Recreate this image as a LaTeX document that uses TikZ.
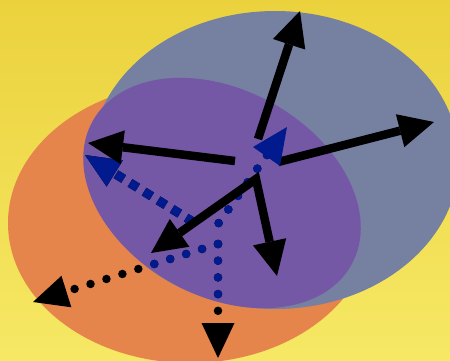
\documentclass[tikz,border=0pt]{standalone}
\usetikzlibrary{arrows.meta}
\definecolor{bgtop}{HTML}{EBD23D}
\definecolor{bgbot}{HTML}{F6E865}
\definecolor{slate}{HTML}{7680A1}
\definecolor{tang}{HTML}{E5844B}
\definecolor{vio}{HTML}{7458A6}
\definecolor{navyblue}{HTML}{011B8E}
\newcommand{\dottedset}[1]{%
  \draw[sqline,color=#1] (sqS) -- (sqT);
  \draw[dotline,color=#1] (dA) -- (dJ);
  \draw[dotarrow,color=#1] (dV) -- (dVT);
  \draw[dotarrow,color=#1] (dV) -- (dLT);
}
\begin{document}
\begin{tikzpicture}[x=1pt,y=-1pt,
  bigtip/.style={-{Triangle[length=35pt,width=34pt,line width=0pt]}},
  solidarrow/.style={line width=8.5pt,line cap=butt,bigtip},
  sqline/.style={line width=9pt,line cap=butt,dash pattern=on 9pt off 7.5pt,
     -{Triangle[length=35pt,width=31pt,line width=0pt]}},
  dotline/.style={line width=8.5pt,line cap=round,dash pattern=on 0pt off 16.7pt},
  dotarrow/.style={dotline,-{Triangle[length=35pt,width=33pt,line width=0pt]}},
  purpleshape/.style={shift={(222,193)},rotate=-29}]
\useasboundingbox (0,0) rectangle (450,360);
\shade[top color=bgtop,bottom color=bgbot] (0,0) rectangle (450,360);
% ellipses
\fill[tang] (190,223) ellipse [x radius=182pt, y radius=140pt];
\fill[slate] (275,160) ellipse [x radius=184pt, y radius=149pt];
\fill[vio,purpleshape] (0,0) ellipse [x radius=148pt, y radius=103pt];
% named points
\coordinate (hubU) at (258,139);  \coordinate (tipU) at (300,11);
\coordinate (hubR) at (278,162);  \coordinate (tipR) at (434,122);
\coordinate (hubL) at (235,161);  \coordinate (tipL) at (88,143);
\coordinate (hubV) at (256,179);
\coordinate (tipDL) at (151,253); \coordinate (tipD) at (277,276);
\coordinate (sqS) at (193.8,222.4); \coordinate (sqT) at (85,155);
\coordinate (dA) at (267,155);   \coordinate (dJ) at (218,224);
\coordinate (dV) at (218,244);   \coordinate (dVT) at (218,358);
\coordinate (dLT) at (33,302);
\coordinate (nt1) at (253,147);  \coordinate (nt2) at (287,127);
\coordinate (nt3) at (280,166);
% dotted connectors: black outside, navy inside the purple ellipse
\dottedset{black}
\begin{scope}
  \clip[purpleshape] (0,0) ellipse [x radius=148pt, y radius=103pt];
  \dottedset{navyblue}
\end{scope}
% solid black arrows
\draw[solidarrow] (hubU) -- (tipU);
\draw[solidarrow] (hubR) -- (tipR);
\draw[solidarrow] (hubL) -- (tipL);
\draw[line width=8.5pt,line join=miter,
  {Triangle[length=35pt,width=34pt,line width=0pt]}-{Triangle[length=35pt,width=34pt,line width=0pt]}]
  (tipDL) -- (hubV) -- (tipD);
% navy arrowhead at the hub
\fill[navyblue] (nt1) -- (nt2) -- (nt3) -- cycle;
\end{tikzpicture}
\end{document}
